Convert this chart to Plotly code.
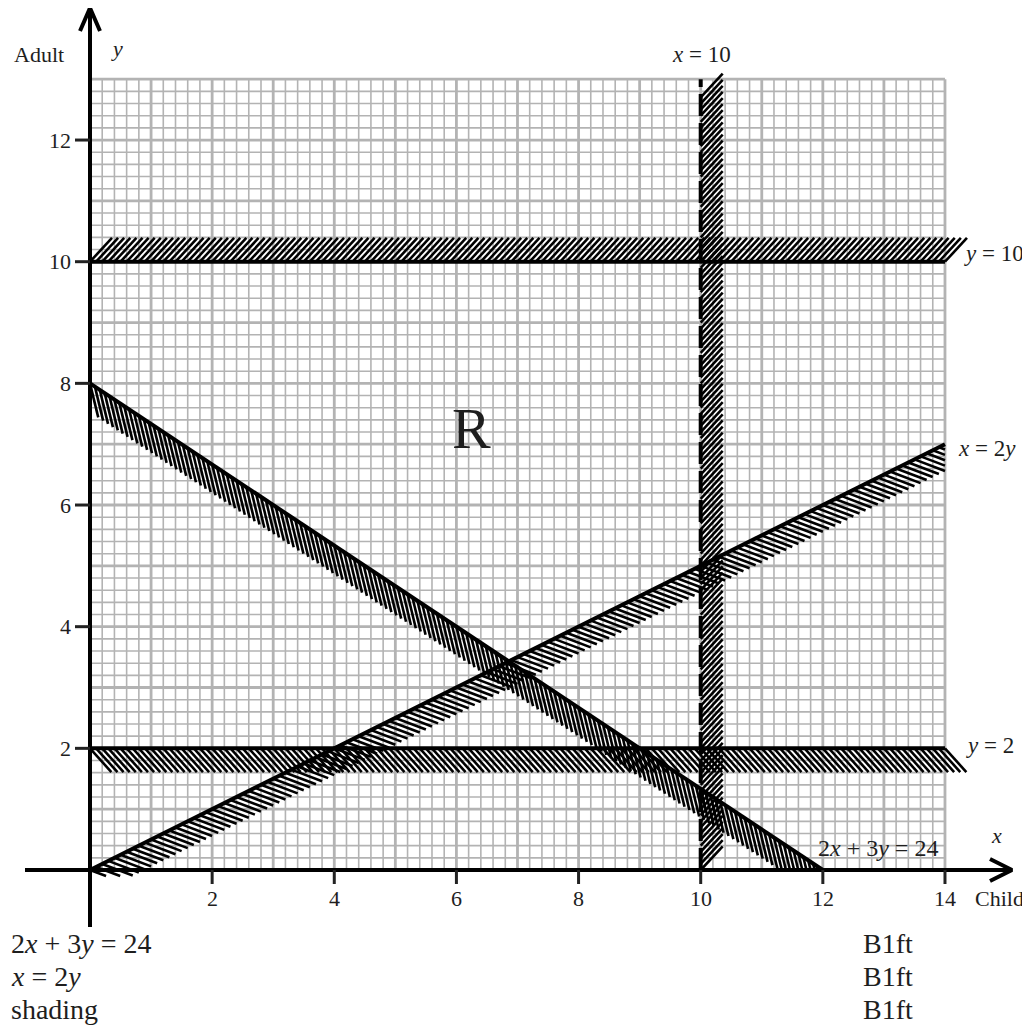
import numpy as np
import plotly.graph_objects as go

# ---------------- data ----------------
x_ticks = [2, 4, 6, 8, 10, 12, 14]
y_ticks = [2, 4, 6, 8, 10, 12]

# constraint lines (endpoints)
line_2x3y_x = [0, 12]      # 2x + 3y = 24
line_2x3y_y = [8, 0]
line_x2y_x = [0, 14]       # x = 2y
line_x2y_y = [0, 7]
line_y10_x = [0, 14]       # y = 10
line_y10_y = [10, 10]
line_y2_x = [0, 14]        # y = 2
line_y2_y = [2, 2]
line_x10_x = [10, 10]      # x = 10 (dashed)
line_x10_y = [0, 13]

grid_x_max = 14
grid_y_max = 13

bottom_left_text = ["2<i>x</i> + 3<i>y</i> = 24", "<i>x</i> = 2<i>y</i>", "shading"]
bottom_right_text = ["B1ft", "B1ft", "B1ft"]

# ---------------- geometry helpers ----------------
W, H = 1030, 1032
PAGE_OFF = 8            # default body margin of the html page
X0, Y0 = 90, 870        # page pixel of the origin
SX, SY = 61.07, 60.83   # pixels per unit


def X(px):
    return (px - X0) / SX


def Y(py):
    return (Y0 - py) / SY


FONT = "Liberation Serif, Times New Roman, serif"
TXT = "#1e1e1e"
GRID = "#b3b3b3"

fig = go.Figure()

# ---------------- grid ----------------
def grid_lines(vals_x, vals_y):
    xs, ys = [], []
    for v in vals_x:
        xs += [v, v, None]
        ys += [0, grid_y_max, None]
    for v in vals_y:
        xs += [0, grid_x_max, None]
        ys += [v, v, None]
    return xs, ys


minor_x = [round(v, 4) for v in np.arange(0, grid_x_max + 1e-9, 0.2) if abs(v - round(v)) > 1e-6]
minor_y = [round(v, 4) for v in np.arange(0, grid_y_max + 1e-9, 0.2) if abs(v - round(v)) > 1e-6]
major_x = list(range(0, grid_x_max + 1))
major_y = list(range(0, grid_y_max + 1))

gx, gy = grid_lines(minor_x, minor_y)
fig.add_trace(go.Scatter(x=gx, y=gy, mode="lines", line=dict(color=GRID, width=1.6),
                         hoverinfo="skip"))
gx, gy = grid_lines(major_x, major_y)
fig.add_trace(go.Scatter(x=gx, y=gy, mode="lines", line=dict(color=GRID, width=2.8),
                         hoverinfo="skip"))

# ---------------- hatching ----------------
def hatch(lx, ly, d, step, ymin=None, xmax=None):
    p0 = np.array([lx[0], ly[0]], float)
    p1 = np.array([lx[1], ly[1]], float)
    d = np.array(d, float)
    L = np.hypot(*(p1 - p0))
    n = int(np.floor(L / step + 1e-9))
    xs, ys = [], []
    for i in range(n + 1):
        s = p0 + (p1 - p0) * (i * step / L)
        t = 1.0
        e = s + d
        if ymin is not None and e[1] < ymin:
            if s[1] <= ymin:
                continue
            t = min(t, (s[1] - ymin) / (s[1] - e[1]))
        if xmax is not None and e[0] > xmax:
            if s[0] >= xmax:
                continue
            t = min(t, (xmax - s[0]) / (e[0] - s[0]))
        e = s + d * t
        xs += [s[0], e[0], None]
        ys += [s[1], e[1], None]
    return xs, ys


hatch_sets = [
    hatch(line_y10_x, line_y10_y, (0.36, 0.39), 0.1),
    hatch(line_x10_x, [0, 12.7], (0.36, 0.39), 0.1),
    hatch(line_y2_x, line_y2_y, (0.35, -0.39), 0.1),
    hatch(line_2x3y_x, line_2x3y_y, (0.135, -0.56), 0.08 * np.sqrt(1 + (2 / 3) ** 2), ymin=0),
    hatch(line_x2y_x, line_x2y_y, (0.50, -0.19), 0.1 * np.sqrt(1.25), ymin=-0.1, xmax=14),
]
for hx, hy in hatch_sets:
    fig.add_trace(go.Scatter(x=hx, y=hy, mode="lines", line=dict(color="black", width=2.6),
                             hoverinfo="skip"))

# ---------------- constraint lines ----------------
for lx, ly in [(line_2x3y_x, line_2x3y_y), (line_x2y_x, line_x2y_y),
               (line_y10_x, line_y10_y), (line_y2_x, line_y2_y)]:
    fig.add_trace(go.Scatter(x=lx, y=ly, mode="lines", line=dict(color="black", width=4),
                             hoverinfo="skip"))
fig.add_trace(go.Scatter(x=line_x10_x, y=line_x10_y, mode="lines",
                         line=dict(color="black", width=4, dash="22px,7px"), hoverinfo="skip"))

# ---------------- axes ----------------
ax_x0, ax_x1 = X(25), X(1012)
ay_y0, ay_y1 = Y(927), Y(8)
fig.add_trace(go.Scatter(x=[ax_x0, ax_x1], y=[0, 0], mode="lines",
                         line=dict(color="black", width=4), hoverinfo="skip"))
fig.add_trace(go.Scatter(x=[0, 0], y=[ay_y0, ay_y1], mode="lines",
                         line=dict(color="black", width=4), hoverinfo="skip"))
# chevron arrow heads
ah = 22
fig.add_trace(go.Scatter(x=[ax_x1 - ah / SX, ax_x1, ax_x1 - ah / SX],
                         y=[11 / SY, 0, -11 / SY], mode="lines",
                         line=dict(color="black", width=4), hoverinfo="skip"))
fig.add_trace(go.Scatter(x=[-10 / SX, 0, 10 / SX],
                         y=[ay_y1 - 23 / SY, ay_y1, ay_y1 - 23 / SY], mode="lines",
                         line=dict(color="black", width=4), hoverinfo="skip"))

# tick marks
tx, ty = [], []
for v in x_ticks:
    tx += [v, v, None]
    ty += [0, -14 / SY, None]
for v in y_ticks:
    tx += [-15 / SX, 0, None]
    ty += [v, v, None]
fig.add_trace(go.Scatter(x=tx, y=ty, mode="lines", line=dict(color="#222", width=3),
                         hoverinfo="skip"))

# ---------------- text ----------------
ann = []


def add_text(x, y, text, size, xanchor="center", yanchor="middle"):
    ann.append(dict(x=x, y=y, xref="x", yref="y", text=text, showarrow=False,
                    xanchor=xanchor, yanchor=yanchor,
                    font=dict(family=FONT, size=size, color=TXT)))


for v in x_ticks:
    add_text(v, Y(898), str(v), 22)
for v in y_ticks:
    add_text(X(73), v, str(v), 22, xanchor="right")

add_text(X(39), Y(54), "Adult", 22)
add_text(X(117), Y(48), "<i>y</i>", 22)
add_text(X(996), Y(835), "<i>x</i>", 22)
add_text(X(999), Y(898), "Child", 22)
add_text(X(701), Y(54), "<i>x</i> = 10", 23)
add_text(X(962), Y(253), "<i>y</i> = 10", 23, xanchor="left")
add_text(X(956), Y(448), "<i>x</i> = 2<i>y</i>", 23, xanchor="left")
add_text(X(964), Y(745), "<i>y</i> = 2", 23, xanchor="left")
add_text(X(816), Y(848), "2<i>x</i> + 3<i>y</i> = 24", 24, xanchor="left")
add_text(X(471), Y(428), "R", 58)

# left column can start no further left than the figure edge
left_x = X(PAGE_OFF + 0.5)
for i, t in enumerate(bottom_left_text):
    add_text(left_x, Y(943 + 33 * i), t, 28, xanchor="left")
for i, t in enumerate(bottom_right_text):
    add_text(X(861), Y(943 + 33 * i), t, 28, xanchor="left")

# the figure div starts PAGE_OFF px from the page corner, so the ranges are
# expressed in page pixels shifted by that offset
fig.update_layout(
    width=W, height=H, autosize=False,
    margin=dict(l=0, r=0, t=0, b=0, pad=0),
    paper_bgcolor="white", plot_bgcolor="white",
    showlegend=False,
    xaxis=dict(range=[X(PAGE_OFF), X(PAGE_OFF + W)], visible=False, fixedrange=True),
    yaxis=dict(range=[Y(PAGE_OFF + H), Y(PAGE_OFF)], visible=False, fixedrange=True),
    annotations=ann,
)

fig.write_html("out.html")
